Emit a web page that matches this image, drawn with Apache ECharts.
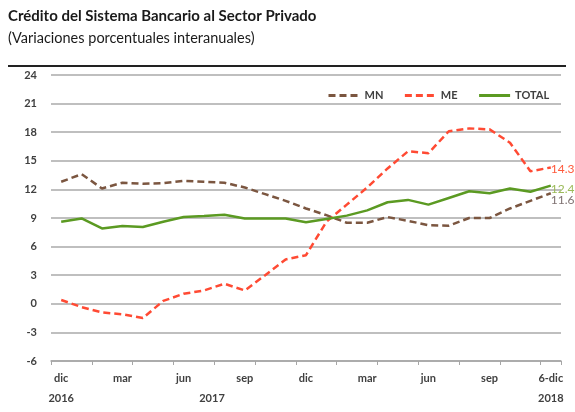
<!DOCTYPE html>
<html>
<head>
<meta charset="utf-8">
<script src="https://cdn.jsdelivr.net/npm/echarts@6/dist/echarts.min.js"></script>
<style>
  html, body { margin: 0; padding: 0; background: #fff; }
  #credito-chart { width: 575px; height: 412px; }
</style>
</head>
<body>
<div id="credito-chart"></div>
<script>
// meses de dic-2016 a 6-dic-2018
var meses = ['dic', 'ene', 'feb', 'mar', 'abr', 'may', 'jun', 'jul', 'ago', 'sep', 'oct', 'nov',
  'dic', 'ene', 'feb', 'mar', 'abr', 'may', 'jun', 'jul', 'ago', 'sep', 'oct', 'nov', '6-dic']
var anios = ['2016', '', '', '', '', '', '', '2017', '', '', '', '', '',
  '', '', '', '', '', '', '', '', '', '', '', '2018']
var mn = [12.8, 13.6, 12.1, 12.7, 12.6, 12.65, 12.9, 12.8, 12.7, 12.2, 11.5, 10.8,
  10.0, 9.3, 8.5, 8.5, 9.1, 8.7, 8.25, 8.2, 9.0, 9.0, 10.0, 10.8, 11.6]
var me = [0.4, -0.35, -0.9, -1.1, -1.5, 0.3, 1.05, 1.4, 2.1, 1.4, 3.0, 4.65,
  5.1, 8.6, 10.4, 12.2, 14.2, 16.0, 15.8, 18.1, 18.4, 18.3, 16.9, 13.9, 14.3]
var total = [8.6, 8.95, 7.9, 8.15, 8.05, 8.6, 9.1, 9.2, 9.35, 8.95, 8.95, 8.95,
  8.55, 8.9, 9.25, 9.8, 10.65, 10.9, 10.4, 11.1, 11.8, 11.6, 12.1, 11.75, 12.4]

var fuente = 'Lato, "Open Sans", sans-serif'
var myChart = echarts.init(document.getElementById('credito-chart'))

function serie (nombre, datos, color, tipo, labelColor, offsetY) {
  return {
    name: nombre,
    type: 'line',
    data: datos,
    symbol: 'none',
    z: nombre === 'ME' ? 3 : 4,
    lineStyle: { color: color, width: 2.5, type: tipo },
    itemStyle: { color: color },
    endLabel: {
      show: true,
      distance: 0,
      offset: [0, offsetY],
      formatter: function (p) { return p.value.toFixed(1) },
      color: labelColor,
      fontFamily: fuente,
      fontSize: 12
    }
  }
}

var option = {
  animation: false,
  textStyle: { fontFamily: fuente },
  graphic: [
    {
      type: 'text',
      left: 8,
      top: 9,
      style: { text: 'Crédito del Sistema Bancario al Sector Privado', font: 'bold 15px ' + fuente, fill: '#1a1a1a' }
    },
    {
      type: 'text',
      left: 8,
      top: 31,
      style: { text: '(Variaciones porcentuales interanuales)', font: '14.5px ' + fuente, fill: '#1a1a1a' }
    },
    {
      type: 'line',
      shape: { x1: 8, y1: 66, x2: 566, y2: 66 },
      style: { stroke: '#222', lineWidth: 2 }
    }
  ],
  legend: {
    left: 323,
    top: 88,
    itemWidth: 31,
    itemHeight: 10,
    itemGap: 20,
    backgroundColor: '#fff',
    padding: [2, 4],
    itemStyle: { opacity: 0 },
    lineStyle: { width: 3 },
    textStyle: { color: '#404040', fontWeight: 'bold', fontSize: 11, fontFamily: fuente },
    data: ['MN', 'ME', 'TOTAL']
  },
  grid: {
    left: 51,
    right: 14,
    top: 75,
    bottom: 51
  },
  xAxis: [
    {
      type: 'category',
      data: meses,
      position: 'bottom',
      axisLine: { show: false },
      axisTick: { show: false },
      axisLabel: { interval: 2, margin: 12, color: '#404040', fontWeight: 'bold', fontSize: 11, fontFamily: fuente }
    },
    {
      type: 'category',
      data: meses,
      position: 'bottom',
      axisLine: { onZero: true, lineStyle: { color: '#a6a6a6', width: 1.5 } },
      axisTick: { show: true, length: 4, inside: false, lineStyle: { color: '#a6a6a6' } },
      axisLabel: { show: false }
    },
    {
      type: 'category',
      data: meses,
      position: 'bottom',
      axisLine: { show: false },
      axisTick: { show: false },
      axisLabel: {
        interval: 0,
        margin: 32,
        formatter: function (v, i) {
          return anios[i] === '2017' ? '{m|2017}' : anios[i]
        },
        rich: {
          m: { padding: [0, 0, 0, 16], fontWeight: 'bold', fontSize: 11, color: '#404040', fontFamily: fuente }
        },
        color: '#404040',
        fontWeight: 'bold',
        fontSize: 11,
        fontFamily: fuente
      }
    }
  ],
  yAxis: {
    type: 'value',
    min: -6,
    max: 24,
    interval: 3,
    axisLine: { show: false },
    axisTick: { show: false },
    axisLabel: { margin: 14, color: '#404040', fontWeight: 'bold', fontSize: 11, fontFamily: fuente },
    splitLine: { lineStyle: { color: '#bfbfbf', width: 2 } }
  },
  series: [
    serie('MN', mn, '#7b5640', [7, 4], '#7f7272', 7),
    serie('ME', me, '#ff4a33', [7, 4], '#ff5a3c', 2),
    serie('TOTAL', total, '#5b9a22', 'solid', '#9bbb59', 3.5)
  ]
}
myChart.setOption(option, true)
</script>
</body>
</html>
